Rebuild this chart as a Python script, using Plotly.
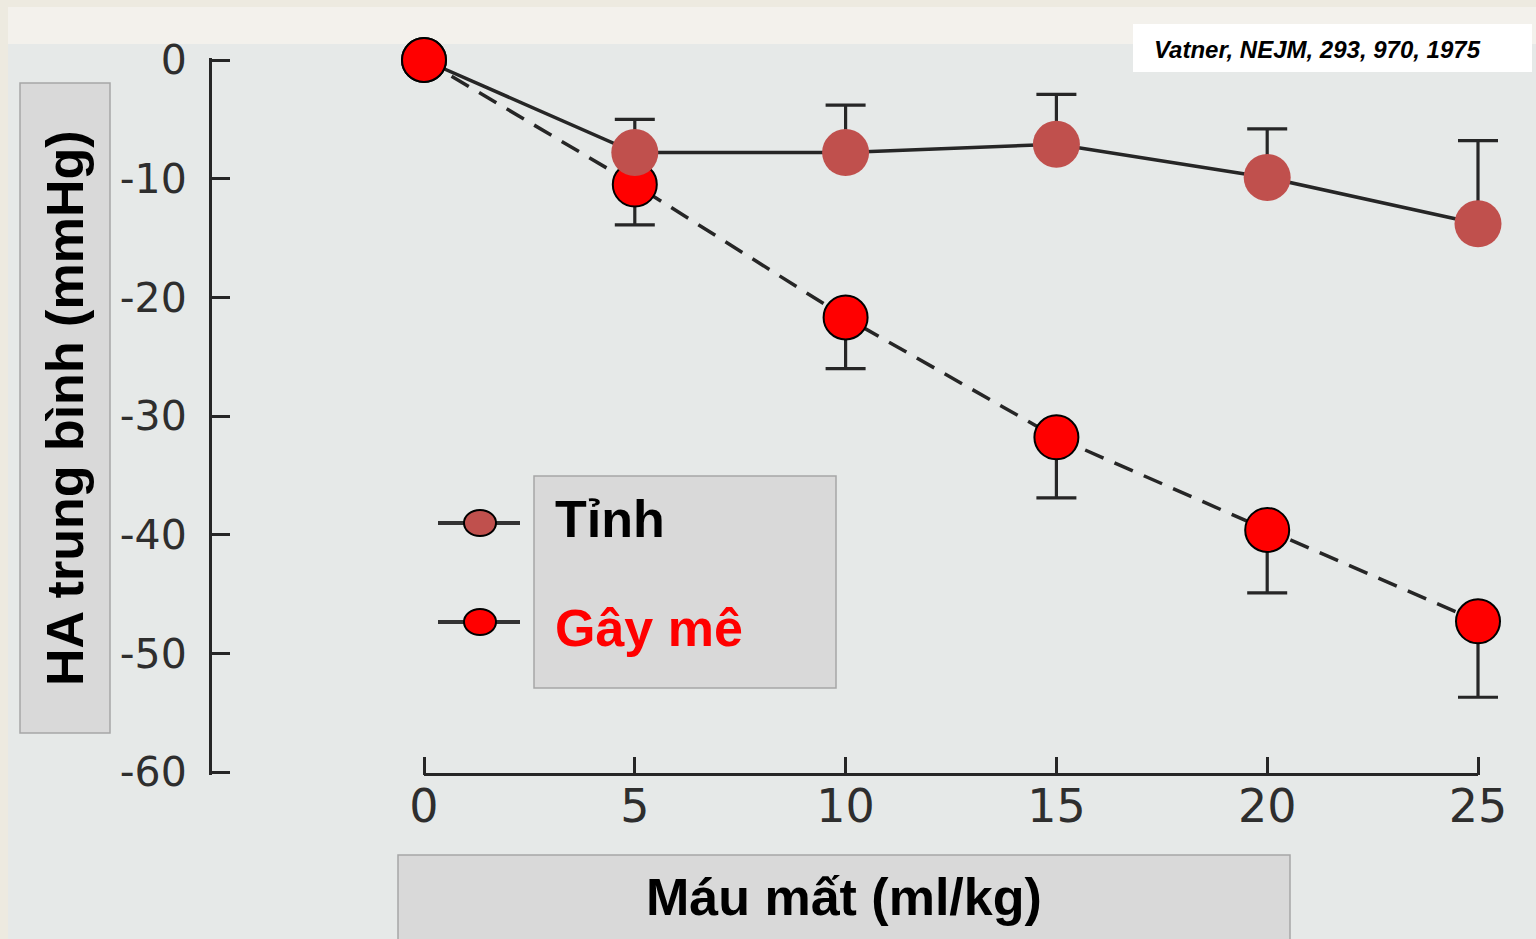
import plotly.graph_objects as go

W, H = 1536, 939

# ---- data -------------------------------------------------------------
blood_loss = [0, 5, 10, 15, 20, 25]                     # ml/kg
x_tick_text = ["0", "5", "10", "15", "20", "25"]
y_tick_vals = [0, -10, -20, -30, -40, -50, -60]
y_tick_text = ["0", "-10", "-20", "-30", "-40", "-50", "-60"]

conscious = [0, -7.8, -7.8, -7.1, -9.9, -13.8]          # Tỉnh
conscious_err = [0, 2.8, 4.0, 4.2, 4.1, 7.0]
anesthetized = [0, -10.5, -21.7, -31.8, -39.6, -47.3]   # Gây mê
anesthetized_err = [0, 3.4, 4.3, 5.1, 5.3, 6.4]

series_names = ["Tỉnh", "Gây mê"]
citation = "Vatner, NEJM, 293, 970, 1975"
x_title = "Máu mất (ml/kg)"
y_title = "HA trung bình (mmHg)"

# ---- styling ----------------------------------------------------------
FONT = "Liberation Sans, Arial, Helvetica, sans-serif"
TICK_FONT = "DejaVu Sans, Verdana, sans-serif"
INK = "#262626"
BROWN = "#c0504d"
RED = "#ff0000"
BOX_FILL = "#d9d9d9"
BOX_LINE = "#a6a6a6"

# pixel frame of the axes: x 0..25 spans 424..1478 px, y 0..-60 spans 60..772 px
X_LO, X_HI = 0, 25
X_LO_PX, X_HI_PX = 424, 1478
Y_HI, Y_LO = 0, -60
Y_HI_PX, Y_LO_PX = 60, 772
X_PER_PX = (X_HI - X_LO) / (X_HI_PX - X_LO_PX)
Y_PER_PX = (Y_HI - Y_LO) / (Y_LO_PX - Y_HI_PX)
X_DOM_PX = (X_LO_PX - 2.5, 1532)          # room on the right for the last error caps
Y_DOM_PX = (Y_HI_PX - 2.5, Y_LO_PX + 2.5)


def px(x):
    return x / W


def py(y):
    return 1 - y / H


x_range = [X_LO - (X_LO_PX - X_DOM_PX[0]) * X_PER_PX,
           X_HI + (X_DOM_PX[1] - X_HI_PX) * X_PER_PX]
y_range = [Y_LO - (Y_DOM_PX[1] - Y_LO_PX) * Y_PER_PX,
           Y_HI + (Y_HI_PX - Y_DOM_PX[0]) * Y_PER_PX]

fig = go.Figure()

# anesthetized series: dashed line, errors pointing down
fig.add_trace(go.Scatter(
    x=blood_loss, y=anesthetized, mode="lines+markers",
    line=dict(color=INK, width=3.5, dash="20px,12px"),
    marker=dict(size=44, color=RED, line=dict(color="#000000", width=2)),
    error_y=dict(type="data", symmetric=False, array=[0] * len(anesthetized_err),
                 arrayminus=anesthetized_err, color=INK, thickness=3.2, width=20),
    cliponaxis=False, showlegend=False, name=series_names[1],
))

# conscious series: solid line, errors pointing up
fig.add_trace(go.Scatter(
    x=blood_loss, y=conscious, mode="lines+markers",
    line=dict(color=INK, width=3.5),
    marker=dict(size=[0] + [47] * (len(conscious) - 1), color=BROWN,
                opacity=1, line=dict(width=0)),
    error_y=dict(type="data", symmetric=False, array=conscious_err,
                 arrayminus=[0] * len(conscious_err), color=INK, thickness=3.2, width=20),
    cliponaxis=False, showlegend=False, name=series_names[0],
))

# shared starting point sits on top of both lines
fig.add_trace(go.Scatter(
    x=[blood_loss[0]], y=[anesthetized[0]], mode="markers",
    marker=dict(size=44, color=RED, line=dict(color="#000000", width=2)),
    cliponaxis=False, showlegend=False, hoverinfo="skip",
))

shapes = [
    # page background panels
    dict(type="rect", xref="paper", yref="paper", layer="below",
         x0=px(8), x1=1, y0=0, y1=py(7), fillcolor="#e6e9e8", line_width=0),
    dict(type="rect", xref="paper", yref="paper", layer="below",
         x0=px(8), x1=1, y0=py(44), y1=py(7), fillcolor="#f3f1ec", line_width=0),
    # citation box
    dict(type="rect", xref="paper", yref="paper", layer="below",
         x0=px(1133), x1=px(1532), y0=py(72), y1=py(24),
         fillcolor="#ffffff", line_width=0),
    # axis title boxes
    dict(type="rect", xref="paper", yref="paper", layer="below",
         x0=px(20), x1=px(110), y0=py(733), y1=py(83),
         fillcolor=BOX_FILL, line=dict(color=BOX_LINE, width=1.5)),
    dict(type="rect", xref="paper", yref="paper", layer="below",
         x0=px(398), x1=px(1290), y0=py(950), y1=py(855),
         fillcolor=BOX_FILL, line=dict(color=BOX_LINE, width=1.5)),
    # legend box
    dict(type="rect", xref="paper", yref="paper", layer="below",
         x0=px(534), x1=px(836), y0=py(688), y1=py(476),
         fillcolor=BOX_FILL, line=dict(color=BOX_LINE, width=1.5)),
    # x baseline, only across the labelled range 0..25
    dict(type="line", xref="x", yref="y domain", layer="above",
         x0=X_LO, x1=X_HI, y0=0, y1=0, line=dict(color=INK, width=3)),
]

# legend glyphs
for yc, fill in [(523, BROWN), (622, RED)]:
    shapes.append(dict(type="line", xref="paper", yref="paper", layer="above",
                       x0=px(438), x1=px(520), y0=py(yc), y1=py(yc),
                       line=dict(color="#333333", width=4)))
    shapes.append(dict(type="circle", xref="paper", yref="paper", layer="above",
                       x0=px(464), x1=px(496), y0=py(yc + 13), y1=py(yc - 13),
                       fillcolor=fill, line=dict(color="#000000", width=2)))

annotations = [
    dict(text=f"<b><i>{citation}</i></b>", xref="paper", yref="paper",
         x=px(1152), y=py(49), xanchor="left", yanchor="middle", showarrow=False,
         font=dict(family=FONT, size=24, color="#000000")),
    dict(text=f"<b>{y_title}</b>", xref="paper", yref="paper",
         x=px(65), y=py(408), xanchor="center", yanchor="middle", showarrow=False,
         textangle=-90, font=dict(family=FONT, size=52, color="#000000")),
    dict(text=f"<b>{x_title}</b>", xref="paper", yref="paper",
         x=px(844), y=py(897), xanchor="center", yanchor="middle", showarrow=False,
         font=dict(family=FONT, size=52, color="#000000")),
    dict(text=f"<b>{series_names[0]}</b>", xref="paper", yref="paper",
         x=px(553), y=py(519), xanchor="left", yanchor="middle", showarrow=False,
         font=dict(family=FONT, size=52, color="#000000")),
    dict(text=f"<b>{series_names[1]}</b>", xref="paper", yref="paper",
         x=px(553), y=py(628), xanchor="left", yanchor="middle", showarrow=False,
         font=dict(family=FONT, size=52, color=RED)),
]

fig.update_layout(
    width=W, height=H, autosize=False,
    margin=dict(l=0, r=0, t=0, b=0, pad=0, autoexpand=False),
    paper_bgcolor="#edeae0", plot_bgcolor="rgba(0,0,0,0)",
    showlegend=False,
    shapes=shapes, annotations=annotations,
    xaxis=dict(
        domain=[px(X_DOM_PX[0]), px(X_DOM_PX[1])], range=x_range, automargin=False,
        showgrid=False, zeroline=False, showline=False,
        ticks="inside", ticklen=18, tickwidth=2.5, tickcolor=INK,
        tickvals=blood_loss, ticktext=x_tick_text,
        tickfont=dict(family=TICK_FONT, size=46, color="#2e2e2e"),
        ticklabelstandoff=0,
    ),
    yaxis=dict(
        domain=[py(Y_DOM_PX[1]), py(Y_DOM_PX[0])], range=y_range, automargin=False,
        anchor="free", position=px(210),
        showgrid=False, zeroline=False,
        showline=True, linecolor=INK, linewidth=3,
        ticks="inside", ticklen=18, tickwidth=2.5, tickcolor=INK,
        tickvals=y_tick_vals, ticktext=y_tick_text,
        tickfont=dict(family=TICK_FONT, size=41, color="#2e2e2e"),
        ticklabelstandoff=14,
    ),
)

fig.write_html("out.html")
